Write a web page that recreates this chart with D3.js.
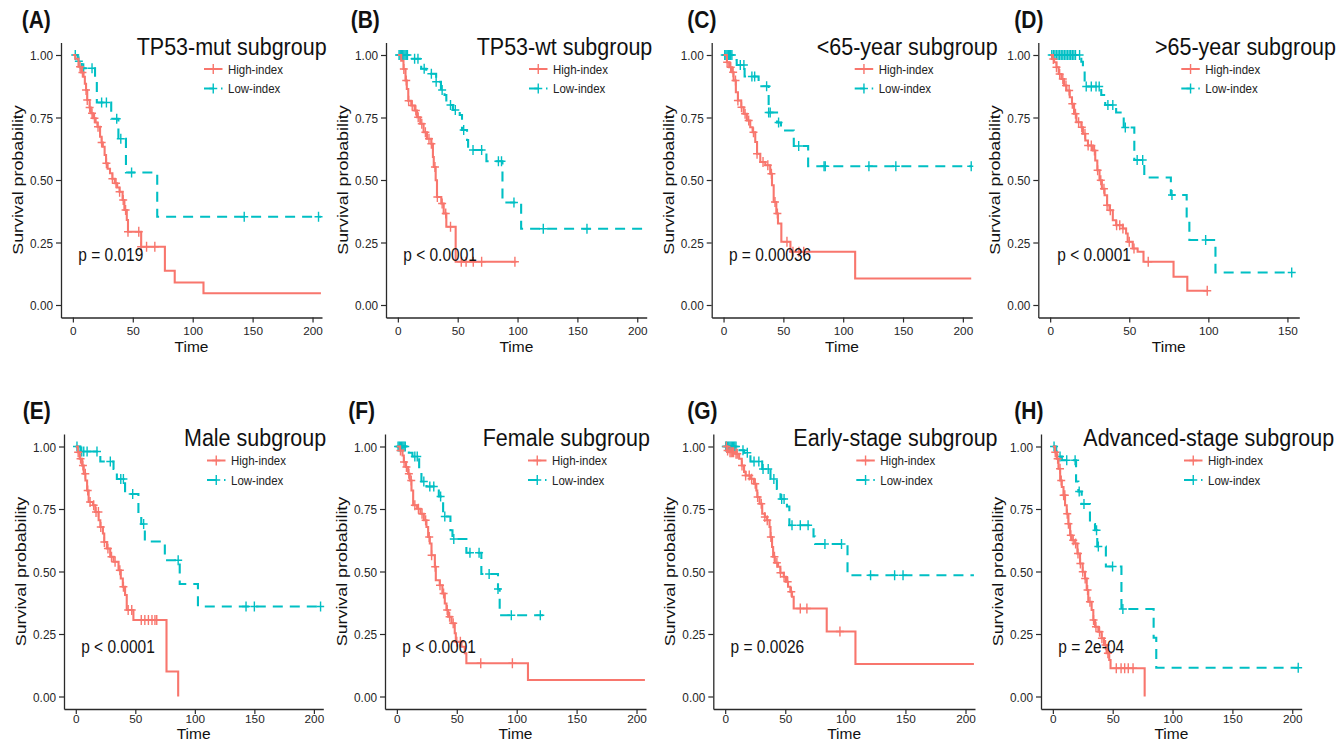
<!DOCTYPE html>
<html><head><meta charset="utf-8">
<script src="https://cdnjs.cloudflare.com/ajax/libs/d3/7.8.5/d3.min.js"></script>
<style>body{margin:0;background:#fff}svg{display:block}text{font-family:"Liberation Sans",Arial,sans-serif}</style>
</head><body><svg id="c" width="1339" height="743"></svg>
<script>
// ---------- data ----------
const panelLetters = ["(A)","(B)","(C)","(D)","(E)","(F)","(G)","(H)"];
const panelTitles = ["TP53-mut subgroup","TP53-wt subgroup","<65-year subgroup",">65-year subgroup",
  "Male subgroup","Female subgroup","Early-stage subgroup","Advanced-stage subgroup"];
const pValues = ["p = 0.019","p < 0.0001","p = 0.00036","p < 0.0001","p < 0.0001","p < 0.0001","p = 0.0026","p = 2e-04"];
const groupNames = ["High-index","Low-index"];
const yTickValues = [0,0.25,0.5,0.75,1];
const yTickLabels = ["0.00","0.25","0.50","0.75","1.00"];
const xTicks200 = [0,50,100,150,200];
const xTicks150 = [0,50,100,150];
const xMaxTime = [198,198,198,150,198,198,198,198];

// step points [time, survival after event]; censor times
const A_high = [[2,0.985],[4.7,0.953],[7,0.93],[8.9,0.913],[10,0.885],[11,0.86],[12,0.82],[14,0.79],[15,0.767],[17,0.747],[19,0.73],[20.5,0.713],[22.7,0.673],[24,0.65],[25,0.633],[26.5,0.6],[27.7,0.567],[29,0.545],[31,0.527],[33,0.505],[35,0.487],[37,0.47],[39,0.453],[41.5,0.42],[43,0.38],[45,0.34],[46,0.293],[57,0.233],[76.8,0.137],[85,0.09],[109,0.047],[207,0.047]];
const A_high_cens = [6,8,11,12,14,16,18,21,24,28,33,36,39,42,44,46,55,57,61.5,68.4];
const A_low = [[4,0.975],[7.5,0.947],[18.5,0.9],[20,0.81],[32,0.745],[38,0.665],[44.3,0.53],[70.4,0.353],[207,0.353]];
const A_low_cens = [2,5,9,16,24,28,36.6,40,49,143,205];

const B_high = [[2.8,0.977],[4.7,0.944],[6.4,0.898],[7.5,0.864],[8.7,0.817],[11.2,0.798],[14,0.778],[16,0.751],[18.7,0.725],[21.5,0.691],[24.3,0.665],[28,0.645],[29.3,0.592],[30,0.552],[31.6,0.499],[32.7,0.432],[36.3,0.406],[38.3,0.366],[40.5,0.313],[48.3,0.173],[99,0.173]];
const B_high_cens = [5,7,9,12,15,17,20,23,26,28,31,33,37,40,44,53,57,63,70,97.8];
const B_low = [[10,0.985],[19.5,0.945],[23.7,0.925],[32,0.893],[36,0.86],[39,0.84],[40.5,0.8],[46,0.78],[51.7,0.76],[53.6,0.7],[57.8,0.66],[58.7,0.62],[74,0.575],[87.4,0.41],[103,0.305],[207,0.305]];
const B_low_cens = [1,2,3,4,5,6,7,8,14,16.8,22,28,32,37,44,48,55,62.8,70,84,86.6,97,121.5,158];

const C_high = [[2.8,0.971],[4.7,0.951],[7,0.931],[8.4,0.898],[10.3,0.851],[12,0.818],[14.8,0.791],[16.8,0.765],[19.5,0.738],[22.3,0.711],[24.3,0.691],[26.5,0.652],[28,0.605],[30.7,0.572],[34.9,0.559],[39,0.525],[40.5,0.479],[41.9,0.412],[44.1,0.366],[45.5,0.326],[48.3,0.253],[55.9,0.213],[110,0.106],[207,0.106]];
const C_high_cens = [3,6,8,10,12,15,18,21,25,28,33,37,40,43,45,53,58,63,67];
const C_low = [[8.4,0.98],[11,0.96],[17.6,0.914],[29.3,0.875],[37.7,0.77],[44.7,0.73],[48,0.698],[58.7,0.636],[70.7,0.555],[207,0.555]];
const C_low_cens = [1,2,3,4,5,6,7,14,17,23.7,26,36,37.7,39,46,62.8,84,85,121.5,144,207];

const D_high = [[1.3,0.984],[2.5,0.971],[4,0.951],[5.4,0.924],[7.1,0.904],[8.8,0.878],[10.3,0.858],[12.4,0.831],[13.8,0.805],[15.1,0.765],[16.6,0.731],[19.7,0.711],[20.7,0.685],[22.2,0.658],[23.9,0.638],[27,0.618],[28.5,0.578],[29.8,0.539],[31.2,0.499],[32.7,0.465],[34.4,0.439],[36,0.399],[37.5,0.379],[39.6,0.339],[41.7,0.319],[45.9,0.306],[48,0.286],[49,0.253],[52.2,0.226],[55.3,0.213],[59,0.173],[78,0.113],[86.7,0.057],[99.3,0.057]];
const D_high_cens = [2,4,6,8,10,12,14,16,18,20,22,24,26,28,30,32,34,36,38,42,44,46,50,53,62,99.3];
const D_low = [[19.7,0.973],[20.7,0.95],[21.8,0.874],[32.3,0.84],[34.8,0.8],[41.7,0.77],[46.5,0.71],[53.2,0.58],[59.5,0.51],[76.3,0.44],[86.3,0.35],[88,0.26],[104.5,0.13],[152.7,0.13]];
const D_low_cens = [1,2,3,4,5,6,7,8,9,10,11,12,13,14,15,16,18.6,22.8,26,29,31,36.5,39.6,47.5,55,58.5,77,98.3,152.7];

const E_high = [[1.7,0.977],[3.3,0.951],[5.3,0.924],[6.7,0.891],[8.1,0.864],[9.5,0.824],[10.8,0.778],[14.5,0.765],[16.4,0.738],[19.2,0.705],[20.6,0.678],[22.8,0.652],[23.9,0.618],[26.1,0.592],[28.9,0.559],[31.7,0.539],[35.9,0.505],[37.8,0.472],[39.5,0.439],[41.4,0.406],[42.8,0.346],[48.4,0.306],[76.2,0.1],[86,0]];
const E_high_cens = [2,4,6,8,10,12,15,17,19,21,24,27,30,33,37,40,44,47,55,58,61,64,66.5,68];
const E_low = [[3.9,0.98],[20.6,0.94],[31.7,0.91],[34.5,0.87],[41.4,0.81],[52.6,0.72],[55,0.69],[58,0.62],[74.8,0.545],[87.3,0.45],[102.6,0.36],[207,0.36]];
const E_low_cens = [1,5,6.7,9.5,17.8,29,37.8,40,47.8,57,86,143,150,205.6];

const F_high = [[2.5,0.984],[4.7,0.964],[5.8,0.938],[7.5,0.918],[9.4,0.891],[10.8,0.864],[12.2,0.824],[13.6,0.765],[16.9,0.751],[19.7,0.731],[22.5,0.705],[24.7,0.678],[26.1,0.638],[27.5,0.612],[28.9,0.565],[31.7,0.519],[32.5,0.465],[35.8,0.445],[38,0.412],[40,0.372],[41.4,0.346],[42.8,0.319],[45.6,0.293],[48.3,0.253],[49.2,0.219],[53.9,0.199],[56.7,0.173],[58,0.133],[109.4,0.066],[207,0.066]];
const F_high_cens = [3,6,8,10,12,15,18,21,24,27,29,32,36,39,42,44,47,50,53,70,96.4];
const F_low = [[8,0.985],[10,0.975],[13,0.96],[18.6,0.9],[20.5,0.86],[24.7,0.84],[31,0.83],[35,0.8],[38.6,0.72],[44.7,0.665],[46.4,0.63],[58,0.575],[70.5,0.49],[84.4,0.43],[85.8,0.325],[122,0.325]];
const F_low_cens = [1,2,3,4,5,6,7,15,17,22.5,27.5,30.8,36.5,40,47.5,61,68.6,77,84.4,95.5,119.7];

const G_high = [[1.9,0.984],[3.3,0.977],[8.8,0.971],[11.6,0.951],[13.8,0.924],[15.7,0.898],[17,0.884],[21.2,0.871],[23.9,0.851],[25.9,0.824],[26.7,0.798],[28.6,0.771],[30.8,0.731],[33,0.718],[34.9,0.705],[36.9,0.678],[37.7,0.638],[39,0.598],[39.9,0.559],[41.3,0.535],[44,0.519],[45.9,0.495],[48.7,0.479],[50.6,0.459],[52.3,0.439],[54.2,0.419],[55.6,0.399],[57,0.352],[84.5,0.26],[108.4,0.13],[207,0.13]];
const G_high_cens = [1,2,4,5,6,7,9,10,14,17,20,22,25,27,30,33,35,38,41,43,46,49,52,55,62.5,68,95.5];
const G_low = [[10,0.985],[15.7,0.975],[21,0.94],[30.8,0.91],[37.7,0.87],[43,0.83],[46,0.79],[51.4,0.76],[53.4,0.685],[73.5,0.64],[74.8,0.61],[101.8,0.485],[207,0.485]];
const G_low_cens = [0.5,1,2,3,4,5,6,7,8,9,14.8,18.4,24,28,31.5,35.8,40.5,47,49,55.6,62.5,69,83,96.8,121,141,148];

const H_high = [[1.9,0.977],[3.3,0.951],[4.7,0.911],[6.1,0.864],[7.5,0.838],[8.9,0.805],[10.2,0.765],[11.6,0.731],[13,0.691],[14.4,0.645],[15.8,0.625],[18.6,0.612],[20.5,0.572],[22.7,0.532],[24.9,0.499],[26.9,0.472],[28.3,0.426],[29.6,0.379],[32.4,0.346],[33.8,0.306],[35.2,0.279],[38,0.259],[40.7,0.233],[42.7,0.206],[44.9,0.173],[47.1,0.146],[48.2,0.113],[76.7,0]];
const H_high_cens = [2,4,6,7,9,10,12,13,15,17,19,21,23,25,27,29,31,34,36,39,41,44,46,53,57,60,63,67];
const H_low = [[2.8,0.98],[4.7,0.96],[7.5,0.945],[19.4,0.86],[21.3,0.82],[24.1,0.77],[31,0.69],[35.2,0.665],[37.1,0.6],[44.3,0.52],[57.3,0.35],[84.2,0.235],[86.4,0.115],[205,0.115]];
const H_low_cens = [1,6,11.6,18.6,22,26,36.5,38,49.9,58.5,205];

const highCurves = [A_high,B_high,C_high,D_high,E_high,F_high,G_high,H_high];
const highCensors = [A_high_cens,B_high_cens,C_high_cens,D_high_cens,E_high_cens,F_high_cens,G_high_cens,H_high_cens];
const lowCurves = [A_low,B_low,C_low,D_low,E_low,F_low,G_low,H_low];
const lowCensors = [A_low_cens,B_low_cens,C_low_cens,D_low_cens,E_low_cens,F_low_cens,G_low_cens,H_low_cens];
const pvalTime = 4.5, pvalSurv = 0.2;

// ---------- layout ----------
const panelLeft  = [61,386,711.7,1038.3,64,385,713.3,1041];
const panelRight = [322,646.7,972.3,1299.3,323.3,646,975,1301.7];
const panelRow   = [0,0,0,0,1,1,1,1];
const titleX  = [136.7,476.7,816.7,1155,184,482.7,793.3,1083.3];
const letterX = [21.7,350.7,687.3,1014.3,22.7,348.3,687.3,1014.3];
const rowTop = [42.5,434], rowBottom = [317.5,709];
const rowLetterY = [28,419], rowTitleY = [55,446], rowTimeY = [352,739.3], rowTickOff = [17.5,13.5];
const colors = ["#F8766D","#00BFC4"];
const dashes = [null,"10,7"];
const SY = 1.15; // vertical stretch of lettering in the reference

const svg = d3.select("#c");
svg.append("rect").attr("width",1339).attr("height",743).attr("fill","#fff");

function survAt(steps,t){let s=1;for(const [tt,ss] of steps){if(tt<=t) s=ss;}return s;}
function stretchedText(parent,x,y,extra){
  return parent.append("text").attr("transform",`translate(${x},${y}) scale(1,${SY})${extra||""}`);
}

panelLetters.forEach((letter,i)=>{
  const r = panelRow[i];
  const M = xMaxTime[i];
  const x = d3.scaleLinear().domain([-0.05*M,1.05*M]).range([panelLeft[i],panelRight[i]]);
  const y = d3.scaleLinear().domain([-0.05,1.05]).range([rowBottom[r],rowTop[r]]);
  const g = svg.append("g");
  const clipId = "clip"+i;
  g.append("clipPath").attr("id",clipId).append("rect")
    .attr("x",panelLeft[i]).attr("y",rowTop[r]-6).attr("width",panelRight[i]-panelLeft[i]+1).attr("height",rowBottom[r]-rowTop[r]+6);

  // axes
  const xTicks = (M===150)?xTicks150:xTicks200;
  const xAxis = d3.axisBottom(x).tickValues(xTicks).tickSize(5).tickSizeOuter(0).tickPadding(3);
  const yAxis = d3.axisLeft(y).tickValues(yTickValues).tickFormat((d,k)=>yTickLabels[k]).tickSize(5).tickSizeOuter(0).tickPadding(3);
  const gx = g.append("g").attr("transform",`translate(0,${rowBottom[r]})`).call(xAxis);
  const gy = g.append("g").attr("transform",`translate(${panelLeft[i]},0)`).call(yAxis);
  [gx,gy].forEach(a=>{
    a.select(".domain").attr("stroke","#2a2a2a").attr("stroke-width",1.3);
    a.selectAll(".tick line").attr("stroke","#2a2a2a").attr("stroke-width",1.2);
  });
  gx.selectAll(".tick text").each(function(){
    d3.select(this).attr("y",rowTickOff[r]).attr("dy",null)
     .attr("fill","#262626").attr("font-size",11.8).attr("font-family",null);
  });
  gy.selectAll(".tick text").each(function(){
    d3.select(this).attr("x",null).attr("transform",`translate(-8,0) scale(1,${SY})`)
     .attr("dy","0.35em").attr("fill","#262626").attr("font-size",11.8).attr("font-family",null);
  });

  // curves
  const line = d3.line().x(d=>x(d[0])).y(d=>y(d[1])).curve(d3.curveStepAfter);
  const curveSets = [[highCurves[i],highCensors[i]],[lowCurves[i],lowCensors[i]]];
  const cg = g.append("g").attr("clip-path",`url(#${clipId})`);
  [1,0].forEach(k=>{
    const [steps,cens] = curveSets[k];
    cg.append("path").datum([[0,1],...steps]).attr("d",line)
      .attr("fill","none").attr("stroke",colors[k]).attr("stroke-width",2.1)
      .attr("stroke-dasharray",dashes[k]);
    cg.selectAll(null).data(cens).enter().append("path")
      .attr("d",t=>{const cx=x(t),cy=y(survAt(steps,t));return `M${cx-4},${cy}h8M${cx},${cy-5}v10`;})
      .attr("stroke",colors[k]).attr("stroke-width",1.4).attr("fill","none");
  });

  // p value
  stretchedText(g,x(pvalTime),y(pvalSurv)).attr("dy","0.35em")
    .attr("font-size",15.5).attr("fill","#111").text(pValues[i]);

  // legend
  groupNames.forEach((nm,k)=>{
    const ly = y(1) + (k===0?14:33.5);
    const lx = panelLeft[i]+143;
    g.append("line").attr("x1",lx).attr("x2",lx+18.5).attr("y1",ly).attr("y2",ly)
      .attr("stroke",colors[k]).attr("stroke-width",2).attr("stroke-dasharray",dashes[k]);
    g.append("path").attr("d",`M${lx+9.25-4},${ly}h8M${lx+9.25},${ly-5}v10`)
      .attr("stroke",colors[k]).attr("stroke-width",1.4);
    stretchedText(g,panelLeft[i]+167,ly).attr("dy","0.35em")
      .attr("font-size",11.5).attr("fill","#222").text(nm);
  });

  // axis titles
  const midY = (y(0)+y(1))/2;
  stretchedText(g,panelLeft[i]-43.5,midY," rotate(-90)")
    .attr("text-anchor","middle").attr("dy","0.35em").attr("font-size",15.5).attr("fill","#111").text("Survival probability");
  g.append("text").attr("x",(panelLeft[i]+panelRight[i])/2).attr("y",rowTimeY[r])
    .attr("text-anchor","middle").attr("font-size",15.5).attr("fill","#111").text("Time");

  // title and panel letter
  stretchedText(g,titleX[i],rowTitleY[r]).attr("font-size",21.5).attr("fill","#111").text(panelTitles[i]);
  stretchedText(g,letterX[i],rowLetterY[r]).attr("font-size",21).attr("font-weight","bold").attr("fill","#111").text(letter);
});
</script></body></html>
